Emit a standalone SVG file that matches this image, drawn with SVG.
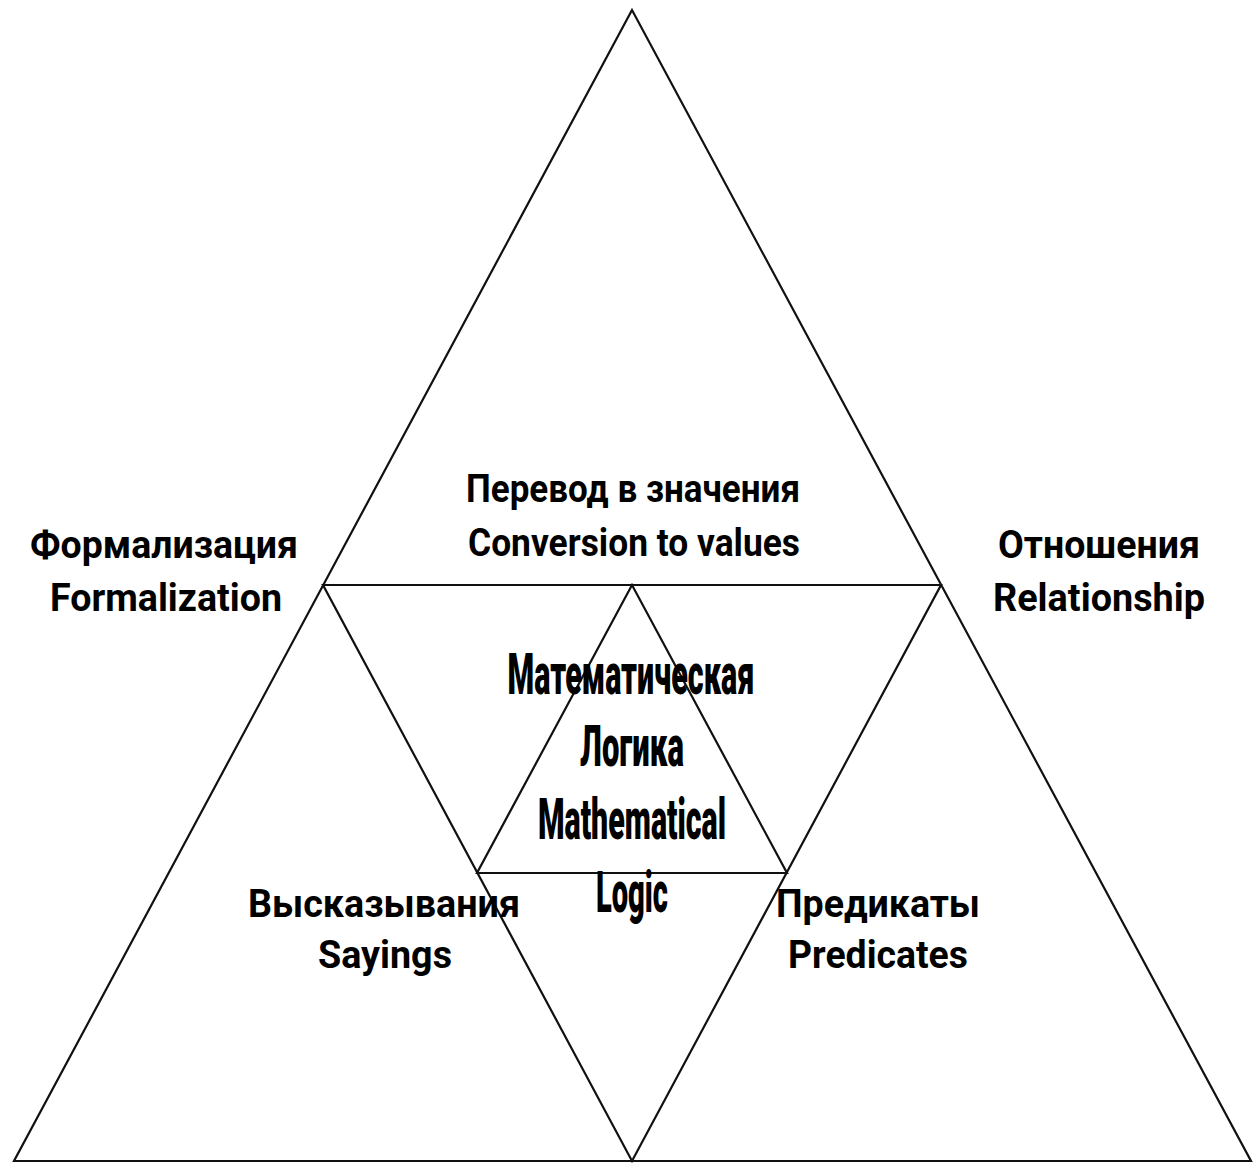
<svg xmlns="http://www.w3.org/2000/svg" width="1257" height="1164" viewBox="0 0 1257 1164">
<style>
.ln{fill:none;stroke:#111;stroke-width:2.2;stroke-linejoin:miter}
.t{font-family:Roboto,"Liberation Sans",sans-serif;font-weight:bold;fill:#000;text-anchor:middle;font-size:39px}
.c{font-size:57px;font-weight:900}
</style>
<rect width="1257" height="1164" fill="#fff"/>
<g id="connectors">
<polygon class="ln" points="632,10 14,1161 1251,1161"/>
<polygon class="ln" points="323,585 941,585 632,1161"/>
<polygon class="ln" points="632,585 477,873 787,873"/>
</g>
<g id="node-top">
<text class="t" x="633" y="502" textLength="334" lengthAdjust="spacingAndGlyphs">Перевод в значения</text>
<text class="t" x="634" y="556" textLength="332" lengthAdjust="spacingAndGlyphs">Conversion to values</text>
</g>
<g id="node-formalization">
<text class="t" x="164" y="558" textLength="268" lengthAdjust="spacingAndGlyphs">Формализация</text>
<text class="t" x="166" y="611" textLength="232" lengthAdjust="spacingAndGlyphs">Formalization</text>
</g>
<g id="node-relationship">
<text class="t" x="1099" y="558" textLength="202" lengthAdjust="spacingAndGlyphs">Отношения</text>
<text class="t" x="1099" y="611" textLength="212" lengthAdjust="spacingAndGlyphs">Relationship</text>
</g>
<g id="node-sayings">
<text class="t" x="384" y="917" textLength="272" lengthAdjust="spacingAndGlyphs">Высказывания</text>
<text class="t" x="385" y="968" textLength="134" lengthAdjust="spacingAndGlyphs">Sayings</text>
</g>
<g id="node-predicates">
<text class="t" x="878" y="917" textLength="204" lengthAdjust="spacingAndGlyphs">Предикаты</text>
<text class="t" x="878" y="968" textLength="180" lengthAdjust="spacingAndGlyphs">Predicates</text>
</g>
<g id="node-center">
<text class="t c" x="631" y="694" textLength="247" lengthAdjust="spacingAndGlyphs">Математическая</text>
<text class="t c" x="632" y="766" textLength="104" lengthAdjust="spacingAndGlyphs">Логика</text>
<text class="t c" x="632" y="839" textLength="188" lengthAdjust="spacingAndGlyphs">Mathematical</text>
<text class="t c" x="632" y="912" textLength="72" lengthAdjust="spacingAndGlyphs">Logic</text>
</g>
</svg>
